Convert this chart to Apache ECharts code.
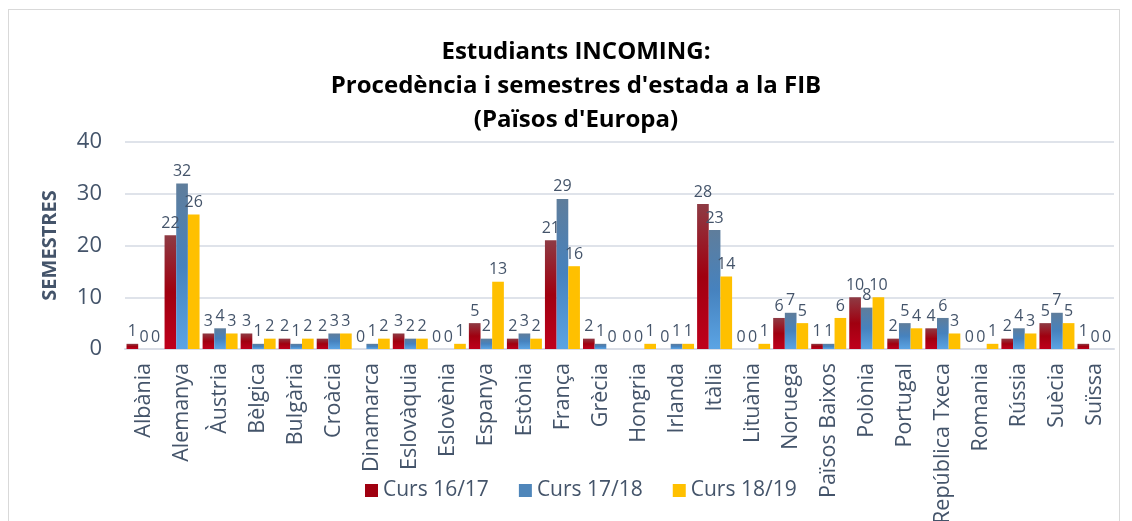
<!DOCTYPE html>
<html><head><meta charset="utf-8">
<script src="https://cdn.jsdelivr.net/npm/echarts@6/dist/echarts.min.js"></script>
<style>
html,body{margin:0;padding:0;background:#fff;}
#frame{position:absolute;left:8px;top:9px;width:1112px;height:520px;border:1px solid #d9d9d9;box-sizing:border-box;}
#c{position:absolute;left:0;top:0;width:1132px;height:521px;}
</style></head>
<body>
<div id="frame"></div>
<div id="c"></div>
<script>
const categories = ["Albània","Alemanya","Àustria","Bèlgica","Bulgària","Croàcia","Dinamarca","Eslovàquia","Eslovènia","Espanya","Estònia","França","Grècia","Hongria","Irlanda","Itàlia","Lituània","Noruega","Països Baixos","Polònia","Portugal","República Txeca","Romania","Rússia","Suècia","Suïssa"];
const curs1617 = [1,22,3,3,2,2,0,3,0,5,2,21,2,0,0,28,0,6,1,10,2,4,0,2,5,1];
const curs1718 = [0,32,4,1,1,3,1,2,0,2,3,29,1,0,1,23,0,7,1,8,5,6,0,4,7,0];
const curs1819 = [0,26,3,2,2,3,2,2,1,13,2,16,0,1,1,14,1,5,6,10,4,3,1,3,5,0];
const seriesNames = ["Curs 16/17","Curs 17/18","Curs 18/19"];
const yTicks = {min:0, max:40, interval:10};

const FONT = '"Open Sans", sans-serif';
const TXT = '#44546a';
const chart = echarts.init(document.getElementById('c'));
const red = new echarts.graphic.LinearGradient(0,0,0,1,[{offset:0,color:'#8e3b44'},{offset:0.5,color:'#a00010'},{offset:1,color:'#bf001c'}]);
const blue = new echarts.graphic.LinearGradient(0,0,0,1,[{offset:0,color:'#5f7d9b'},{offset:0.5,color:'#4682be'},{offset:1,color:'#5ba4e4'}]);
const yellow = '#ffc000';
const lbl = {show:true, position:'top', distance:4, color:TXT, fontSize:16, fontFamily:FONT};
function mk(name, data, color){
  return {name, type:'bar', data, itemStyle:{color}, label:lbl, barGap:'0%', barCategoryGap:'8%'};
}
chart.setOption({
  animation:false,
  title:{text:"Estudiants INCOMING:\nProcedència i semestres d'estada a la FIB\n(Països d'Europa)", left:571, textAlign:'center', top:30,
    textStyle:{fontFamily:FONT, fontWeight:'bold', fontSize:24, color:'#000', lineHeight:34, align:'center'}},
  legend:{top:475, left:360, itemWidth:13, itemHeight:13, itemGap:30, icon:'rect',
    textStyle:{fontFamily:FONT, fontSize:21, color:TXT},
    data:[{name:seriesNames[0], itemStyle:{color:'#a00010'}},{name:seriesNames[1], itemStyle:{color:'#4f86ba'}},{name:seriesNames[2], itemStyle:{color:yellow}}]},
  grid:{left:125, right:18, top:142, bottom:172, containLabel:false, outerBoundsMode:'none'},
  xAxis:{type:'category', data:categories,
    axisLine:{lineStyle:{color:'#d9dde6', width:2}}, axisTick:{show:false},
    axisLabel:{rotate:90, interval:0, fontFamily:FONT, fontSize:21.5, color:TXT, margin:14}},
  yAxis:{type:'value', min:yTicks.min, max:yTicks.max, interval:yTicks.interval,
    name:'SEMESTRES', nameLocation:'middle', nameGap:65,
    nameTextStyle:{fontFamily:FONT, fontWeight:'bold', fontSize:20, color:TXT},
    axisLine:{show:false}, axisTick:{show:false},
    splitLine:{lineStyle:{color:'#dfe3ea', width:2}},
    axisLabel:{fontFamily:FONT, fontSize:22, color:TXT, margin:23}},
  series:[mk(seriesNames[0],curs1617,red), mk(seriesNames[1],curs1718,blue), mk(seriesNames[2],curs1819,yellow)]
});
</script>
</body></html>
